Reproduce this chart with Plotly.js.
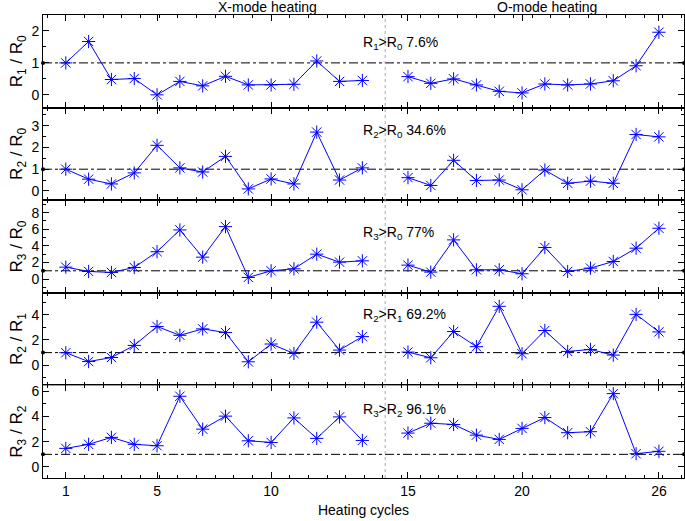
<!DOCTYPE html>
<html>
<head>
<meta charset="utf-8">
<script src="https://cdn.plot.ly/plotly-3.0.1.min.js"></script>
<style>
  body { margin: 0; background: #fff; }
  #grafico { width: 685px; height: 521px; }
</style>
</head>
<body>
<div id="grafico"></div>
<script>
// Razões de resistência por ciclo de aquecimento (modo X e modo O)
// posição no eixo: modo X em 1..14, modo O em 16..27 (rotulados 15..26)

const posX = [1, 2, 3, 4, 5, 6, 7, 8, 9, 10, 11, 12, 13, 14];
const posO = [16, 17, 18, 19, 20, 21, 22, 23, 24, 25, 26, 27];

const marcasX = [1, 5, 10, 16, 21, 27];
const rotulosX = ["1", "5", "10", "15", "20", "26"];

const r1r0X = [1.0, 1.67, 0.48, 0.51, 0.0, 0.42, 0.28, 0.58, 0.31, 0.31, 0.33, 1.06, 0.42, 0.45];
const r1r0O = [0.57, 0.36, 0.5, 0.31, 0.11, 0.06, 0.34, 0.31, 0.34, 0.44, 0.91, 1.96];

const r2r0X = [1.0, 0.54, 0.32, 0.83, 2.1, 1.06, 0.87, 1.59, 0.09, 0.55, 0.32, 2.71, 0.5, 1.06];
const r2r0O = [0.61, 0.25, 1.41, 0.48, 0.5, 0.05, 0.96, 0.35, 0.45, 0.35, 2.6, 2.49];

const r3r0X = [1.44, 0.92, 0.8, 1.4, 3.3, 5.92, 2.64, 6.32, 0.2, 1.0, 1.24, 3.0, 2.04, 2.2];
const r3r0O = [1.68, 0.84, 4.72, 1.12, 1.12, 0.64, 3.8, 0.92, 1.32, 2.12, 3.72, 6.12];

const r2r1X = [0.99, 0.29, 0.61, 1.57, 3.07, 2.37, 2.88, 2.59, 0.27, 1.68, 0.93, 3.41, 1.2, 2.27];
const r2r1O = [1.04, 0.59, 2.67, 1.47, 4.67, 0.91, 2.75, 1.09, 1.25, 0.8, 4.03, 2.64];

const r3r2X = [1.47, 1.79, 2.34, 1.79, 1.68, 5.59, 2.99, 4.02, 2.07, 1.94, 3.88, 2.26, 3.96, 2.1];
const r3r2O = [2.68, 3.46, 3.36, 2.52, 2.18, 3.05, 3.91, 2.71, 2.79, 5.8, 1.05, 1.24];

const paineis = [
  { nome: "R<sub>1</sub> / R<sub>0</sub>", rotulo: "R<sub>1</sub>>R<sub>0</sub> 7.6%", xm: r1r0X, om: r1r0O,
    faixa: [-0.4, 2.5], dtick: 1, menor: 0.5, yTexto: 1.63 },
  { nome: "R<sub>2</sub> / R<sub>0</sub>", rotulo: "R<sub>2</sub>>R<sub>0</sub> 34.6%", xm: r2r0X, om: r2r0O,
    faixa: [-0.43, 3.84], dtick: 1, menor: 0.5, yTexto: 2.78 },
  { nome: "R<sub>3</sub> / R<sub>0</sub>", rotulo: "R<sub>3</sub>>R<sub>0</sub> 77%", xm: r3r0X, om: r3r0O,
    faixa: [-1.65, 9.5], dtick: 2, menor: 1, yTexto: 5.5 },
  { nome: "R<sub>2</sub> / R<sub>1</sub>", rotulo: "R<sub>2</sub>>R<sub>1</sub> 69.2%", xm: r2r1X, om: r2r1O,
    faixa: [-1.6, 5.74], dtick: 2, menor: 1, yTexto: 4.0 },
  { nome: "R<sub>3</sub> / R<sub>2</sub>", rotulo: "R<sub>3</sub>>R<sub>2</sub> 96.1%", xm: r3r2X, om: r3r2O,
    faixa: [-0.87, 6.45], dtick: 2, menor: 1, yTexto: 4.49 }
];

const fonte = { family: "Liberation Sans, Arial, sans-serif", size: 14, color: "#000" };
const faixaX = [0, 28.1];
const azul = "#0000ff";

const data = [];
const layout = {
  width: 685,
  height: 521,
  margin: { l: 43, r: 1, t: 15, b: 43 },
  paper_bgcolor: "#fff",
  plot_bgcolor: "#fff",
  showlegend: false,
  font: fonte,
  shapes: [],
  annotations: [
    { xref: "paper", yref: "paper", x: 0.35, y: 1.018, xanchor: "center", yanchor: "middle", showarrow: false,
      text: "X-mode heating", font: fonte },
    { xref: "paper", yref: "paper", x: 0.786, y: 1.018, xanchor: "center", yanchor: "middle", showarrow: false,
      text: "O-mode heating", font: fonte }
  ]
};

paineis.forEach((p, i) => {
  const n = i + 1;
  const sx = n === 1 ? "" : String(n);
  const xa = "x" + sx;
  const ya = "y" + sx;
  const topo = 1 - i * 0.2;
  const dominio = [Math.max(0, topo - 0.2), topo];

  // linha de referência R = 1
  data.push({
    x: faixaX, y: [1, 1], xaxis: xa, yaxis: ya,
    type: "scatter", mode: "lines+markers", cliponaxis: false,
    line: { color: "#000", width: 1, dash: "dashdot" },
    marker: { color: "#000", size: 4 },
    hoverinfo: "skip"
  });

  [[posX, p.xm], [posO, p.om]].forEach(([xs, ys]) => {
    data.push({
      x: xs, y: ys, xaxis: xa, yaxis: ya,
      type: "scatter", mode: "lines+markers",
      line: { color: azul, width: 1 },
      marker: { symbol: "asterisk-open", size: 11, color: azul, line: { color: azul, width: 1 } }
    });
  });

  layout["xaxis" + sx] = {
    domain: [0, 1], anchor: ya, range: faixaX,
    matches: n === 5 ? undefined : "x5",
    showline: true, linecolor: "#000", linewidth: 1, mirror: "allticks",
    showgrid: false, zeroline: false,
    tickmode: "array", tickvals: marcasX, ticktext: rotulosX,
    ticks: "inside", ticklen: 6, tickcolor: "#000",
    minor: { tickmode: "linear", tick0: 0.18, dtick: 0.818, ticks: "inside", ticklen: 3, tickcolor: "#000" },
    showticklabels: n === 5,
    tickfont: fonte,
    title: n === 5 ? { text: "Heating cycles", font: fonte, standoff: 7 } : { text: "" }
  };

  layout["yaxis" + sx] = {
    domain: dominio, anchor: xa, range: p.faixa,
    showline: true, linecolor: "#000", linewidth: 1, mirror: "allticks",
    showgrid: false, zeroline: false,
    dtick: p.dtick, tick0: 0,
    ticks: "inside", ticklen: 6, tickcolor: "#000",
    minor: { dtick: p.menor, ticks: "inside", ticklen: 3, tickcolor: "#000" },
    tickfont: fonte,
    title: { text: p.nome, font: { family: fonte.family, size: 17, color: "#000" }, standoff: 4 }
  };

  layout.annotations.push({
    xref: xa, yref: ya, x: 13.95, y: p.yTexto, xanchor: "left", yanchor: "middle",
    showarrow: false, text: p.rotulo, font: fonte
  });
});

// divisória pontilhada entre os modos
layout.shapes.push({
  type: "line", xref: "x5", yref: "paper", x0: 15, x1: 15, y0: 0, y1: 1,
  line: { color: "#aaa", width: 1, dash: "dot" }
});

Plotly.newPlot("grafico", data, layout, { displayModeBar: false, staticPlot: true });
</script>
</body>
</html>
